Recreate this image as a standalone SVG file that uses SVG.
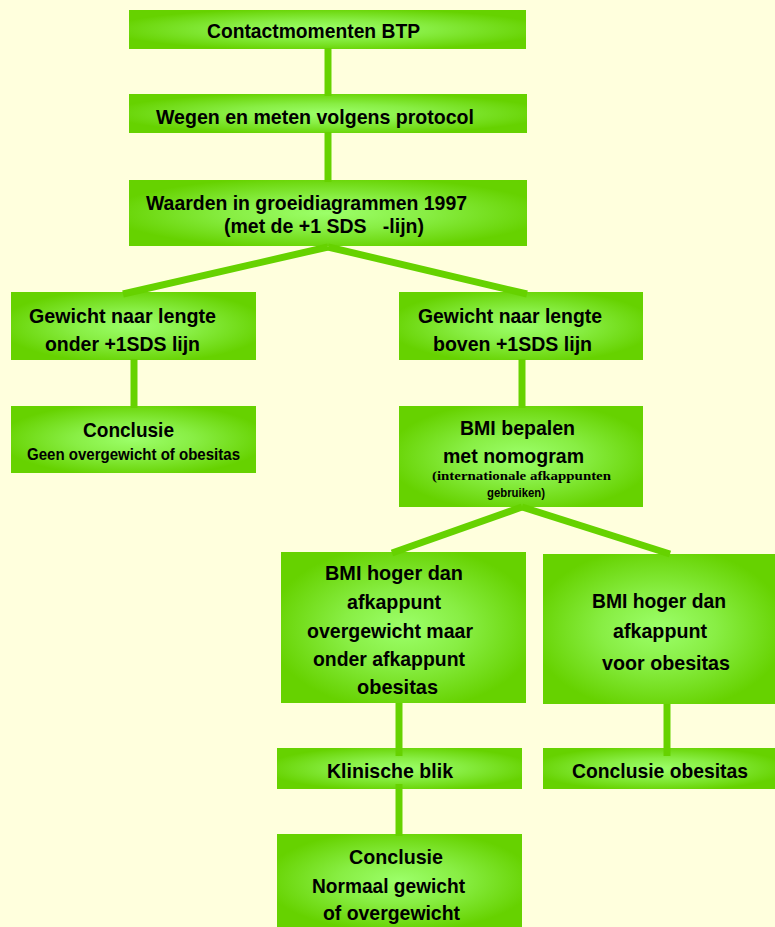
<svg xmlns="http://www.w3.org/2000/svg" width="775" height="927" viewBox="0 0 775 927">
<defs>
<radialGradient id="g" cx="0.5" cy="0.5" r="0.55">
<stop offset="0" stop-color="#9CFF6A"/>
<stop offset="0.45" stop-color="#88EE44"/>
<stop offset="1" stop-color="#66D200"/>
</radialGradient>
</defs>
<style>
.box{fill:url(#g);}
.t{font-family:"Liberation Sans",Arial,sans-serif;font-weight:bold;font-size:21px;fill:#000;}
.s{font-family:"Liberation Sans",Arial,sans-serif;font-weight:bold;font-size:16px;fill:#000;}
.x{font-family:"Liberation Sans",Arial,sans-serif;font-weight:bold;font-size:12px;fill:#000;}
.r{font-family:"Liberation Serif","Times New Roman",serif;font-weight:bold;font-size:12px;fill:#000;}
.c{stroke:#66D200;stroke-width:7;fill:none;}
</style>
<rect width="775" height="927" fill="#FFFFDD"/>
<g id="n1"><rect class="box" x="129" y="10" width="397" height="39"/>
<text class="t" x="207" y="38" textLength="213" lengthAdjust="spacingAndGlyphs">Contactmomenten BTP</text></g>
<g id="n2"><rect class="box" x="129" y="94" width="398" height="39"/>
<text class="t" x="156" y="124" textLength="318" lengthAdjust="spacingAndGlyphs">Wegen en meten volgens protocol</text></g>
<g id="n3"><rect class="box" x="129" y="180" width="398" height="66"/>
<text class="t" x="146" y="210" textLength="321" lengthAdjust="spacingAndGlyphs">Waarden in groeidiagrammen 1997</text>
<text class="t" x="224" y="233" textLength="200" lengthAdjust="spacingAndGlyphs" xml:space="preserve" style="white-space:pre">(met de +1 SDS   -lijn)</text></g>
<g id="n4"><rect class="box" x="11" y="292" width="245" height="68"/>
<text class="t" x="29" y="323" textLength="187" lengthAdjust="spacingAndGlyphs">Gewicht naar lengte</text>
<text class="t" x="45" y="351" textLength="155" lengthAdjust="spacingAndGlyphs">onder +1SDS lijn</text></g>
<g id="n5"><rect class="box" x="11" y="406" width="245" height="67"/>
<text class="t" x="83" y="437" textLength="91" lengthAdjust="spacingAndGlyphs">Conclusie</text>
<text class="s" x="27" y="460" textLength="213" lengthAdjust="spacingAndGlyphs">Geen overgewicht of obesitas</text></g>
<g id="n6"><rect class="box" x="399" y="292" width="244" height="68"/>
<text class="t" x="418" y="323" textLength="184" lengthAdjust="spacingAndGlyphs">Gewicht naar lengte</text>
<text class="t" x="433" y="351" textLength="159" lengthAdjust="spacingAndGlyphs">boven +1SDS lijn</text></g>
<g id="n7"><rect class="box" x="399" y="406" width="244" height="101"/>
<text class="t" x="460" y="435" textLength="115" lengthAdjust="spacingAndGlyphs">BMI bepalen</text>
<text class="t" x="443" y="463" textLength="141" lengthAdjust="spacingAndGlyphs">met nomogram</text>
<text class="r" x="432" y="480" textLength="179" lengthAdjust="spacingAndGlyphs">(internationale afkappunten</text>
<text class="x" x="487" y="497" textLength="58" lengthAdjust="spacingAndGlyphs">gebruiken)</text></g>
<g id="n8"><rect class="box" x="281" y="552" width="245" height="151"/>
<text class="t" x="325" y="580" textLength="138" lengthAdjust="spacingAndGlyphs">BMI hoger dan</text>
<text class="t" x="347" y="609" textLength="94" lengthAdjust="spacingAndGlyphs">afkappunt</text>
<text class="t" x="307" y="638" textLength="166" lengthAdjust="spacingAndGlyphs">overgewicht maar</text>
<text class="t" x="313" y="666" textLength="152" lengthAdjust="spacingAndGlyphs">onder afkappunt</text>
<text class="t" x="357" y="694" textLength="81" lengthAdjust="spacingAndGlyphs">obesitas</text></g>
<g id="n9"><rect class="box" x="543" y="554" width="232" height="150"/>
<text class="t" x="592" y="608" textLength="134" lengthAdjust="spacingAndGlyphs">BMI hoger dan</text>
<text class="t" x="613" y="638" textLength="94" lengthAdjust="spacingAndGlyphs">afkappunt</text>
<text class="t" x="602" y="670" textLength="128" lengthAdjust="spacingAndGlyphs">voor obesitas</text></g>
<g id="n10"><rect class="box" x="277" y="748" width="245" height="41"/>
<text class="t" x="327" y="778" textLength="126" lengthAdjust="spacingAndGlyphs">Klinische blik</text></g>
<g id="n11"><rect class="box" x="543" y="748" width="232" height="41"/>
<text class="t" x="572" y="778" textLength="176" lengthAdjust="spacingAndGlyphs">Conclusie obesitas</text></g>
<g id="n12"><rect class="box" x="277" y="834" width="245" height="93"/>
<text class="t" x="349" y="864" textLength="94" lengthAdjust="spacingAndGlyphs">Conclusie</text>
<text class="t" x="312" y="893" textLength="153" lengthAdjust="spacingAndGlyphs">Normaal gewicht</text>
<text class="t" x="323" y="920" textLength="137" lengthAdjust="spacingAndGlyphs">of overgewicht</text></g>
<g id="connectors">
<line class="c" x1="328" y1="48" x2="328" y2="96"/>
<line class="c" x1="328" y1="132" x2="328" y2="182"/>
<line class="c" x1="328" y1="247" x2="123" y2="294"/>
<line class="c" x1="328" y1="247" x2="527" y2="294"/>
<line class="c" x1="134" y1="359" x2="134" y2="408"/>
<line class="c" x1="522" y1="359" x2="522" y2="408"/>
<line class="c" x1="522" y1="507" x2="392" y2="553"/>
<line class="c" x1="522" y1="507" x2="670" y2="554"/>
<line class="c" x1="399" y1="703" x2="399" y2="756"/>
<line class="c" x1="667" y1="704" x2="667" y2="756"/>
<line class="c" x1="399" y1="784" x2="399" y2="836"/>
</g>
</svg>
